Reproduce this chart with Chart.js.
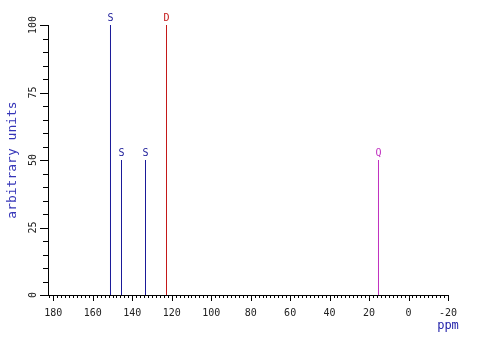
<!DOCTYPE html>
<html>
<head>
<meta charset="utf-8">
<script src="https://cdn.jsdelivr.net/npm/chart.js@4/dist/chart.umd.min.js"></script>
<style>
  html,body{margin:0;padding:0;background:#fff;}
  canvas{display:block;}
</style>
</head>
<body>
<canvas id="c" width="494" height="338"></canvas>
<script>
// Peak data (ppm, height, multiplicity)
const shifts = [151.03, 145.45, 133.29, 122.65, 15.22];
const heights = [100, 50, 50, 100, 50];
const mults = ['S', 'S', 'S', 'D', 'Q'];

// Axis ranges / steps
const xMin = -20, xMax = 182.7, xMajor = 20, xMinor = 2;
const yMin = 0, yMax = 100, yMajor = 25, yMinor = 5;

const multColor = { S: '#1a1a98', D: '#c41818', Q: '#c030c0' };
const FONT = '"DejaVu Sans Mono", monospace';

const datasets = shifts.map((x, i) => ({
  label: mults[i],
  data: [{x, y: 0}, {x, y: heights[i]}],
  showLine: true,
  borderColor: multColor[mults[i]],
  borderWidth: 1,
  pointRadius: 0,
  fill: false
}));

// minor/major tick marks and peak letters, drawn from the scales
const marks = {
  id: 'marks',
  afterDraw(chart) {
    const {ctx, scales: {x, y}} = chart;
    ctx.save();
    ctx.strokeStyle = '#000'; ctx.lineWidth = 1;
    ctx.beginPath();
    for (let v = xMin; v <= xMax; v += xMinor) {
      const px = Math.round(x.getPixelForValue(v)) + 0.5;
      const len = v % xMajor === 0 ? 6 : 3;
      ctx.moveTo(px, y.bottom); ctx.lineTo(px, y.bottom + len);
    }
    for (let v = yMin; v <= yMax; v += yMinor) {
      const py = Math.round(y.getPixelForValue(v)) + 0.5;
      const len = v % yMajor === 0 ? 8 : 5;
      ctx.moveTo(x.left, py); ctx.lineTo(x.left - len, py);
    }
    ctx.stroke();

    ctx.font = '10px ' + FONT;
    ctx.textAlign = 'center'; ctx.textBaseline = 'bottom';
    shifts.forEach((s, i) => {
      ctx.fillStyle = multColor[mults[i]];
      ctx.fillText(mults[i], x.getPixelForValue(s), y.getPixelForValue(heights[i]) - 2);
    });

    ctx.font = '12px ' + FONT;
    ctx.fillStyle = '#2222aa';
    ctx.textAlign = 'center'; ctx.textBaseline = 'middle';
    ctx.fillText('ppm', x.right, y.bottom + 31);
    ctx.restore();
  }
};

new Chart(document.getElementById('c'), {
  type: 'scatter',
  data: { datasets },
  options: {
    responsive: false,
    animation: false,
    events: [],
    layout: { padding: { top: 25, right: 46, left: 0, bottom: 0 } },
    plugins: { legend: { display: false }, tooltip: { enabled: false } },
    scales: {
      x: {
        type: 'linear',
        reverse: true,
        min: xMin, max: xMax,
        grid: { display: false, drawTicks: false },
        border: { display: true, color: '#000', width: 1 },
        ticks: {
          stepSize: xMajor, includeBounds: false, autoSkip: false,
          maxRotation: 0, padding: 12,
          color: '#222', font: { family: FONT, size: 10 }
        },
        afterFit(s) { s.height = 43; }
      },
      y: {
        min: yMin, max: yMax,
        grid: { display: false, drawTicks: false },
        border: { display: true, color: '#000', width: 1 },
        ticks: {
          stepSize: yMajor, minRotation: 90, maxRotation: 90,
          crossAlign: 'center', padding: 6,
          color: '#222', font: { family: FONT, size: 10 }
        },
        title: {
          display: true, text: 'arbitrary units', color: '#3535b8',
          font: { family: FONT, size: 13 }, padding: { top: 5, bottom: 0 }
        },
        afterFit(s) { s.width = 48; }
      }
    }
  },
  plugins: [marks]
});
</script>
</body>
</html>
